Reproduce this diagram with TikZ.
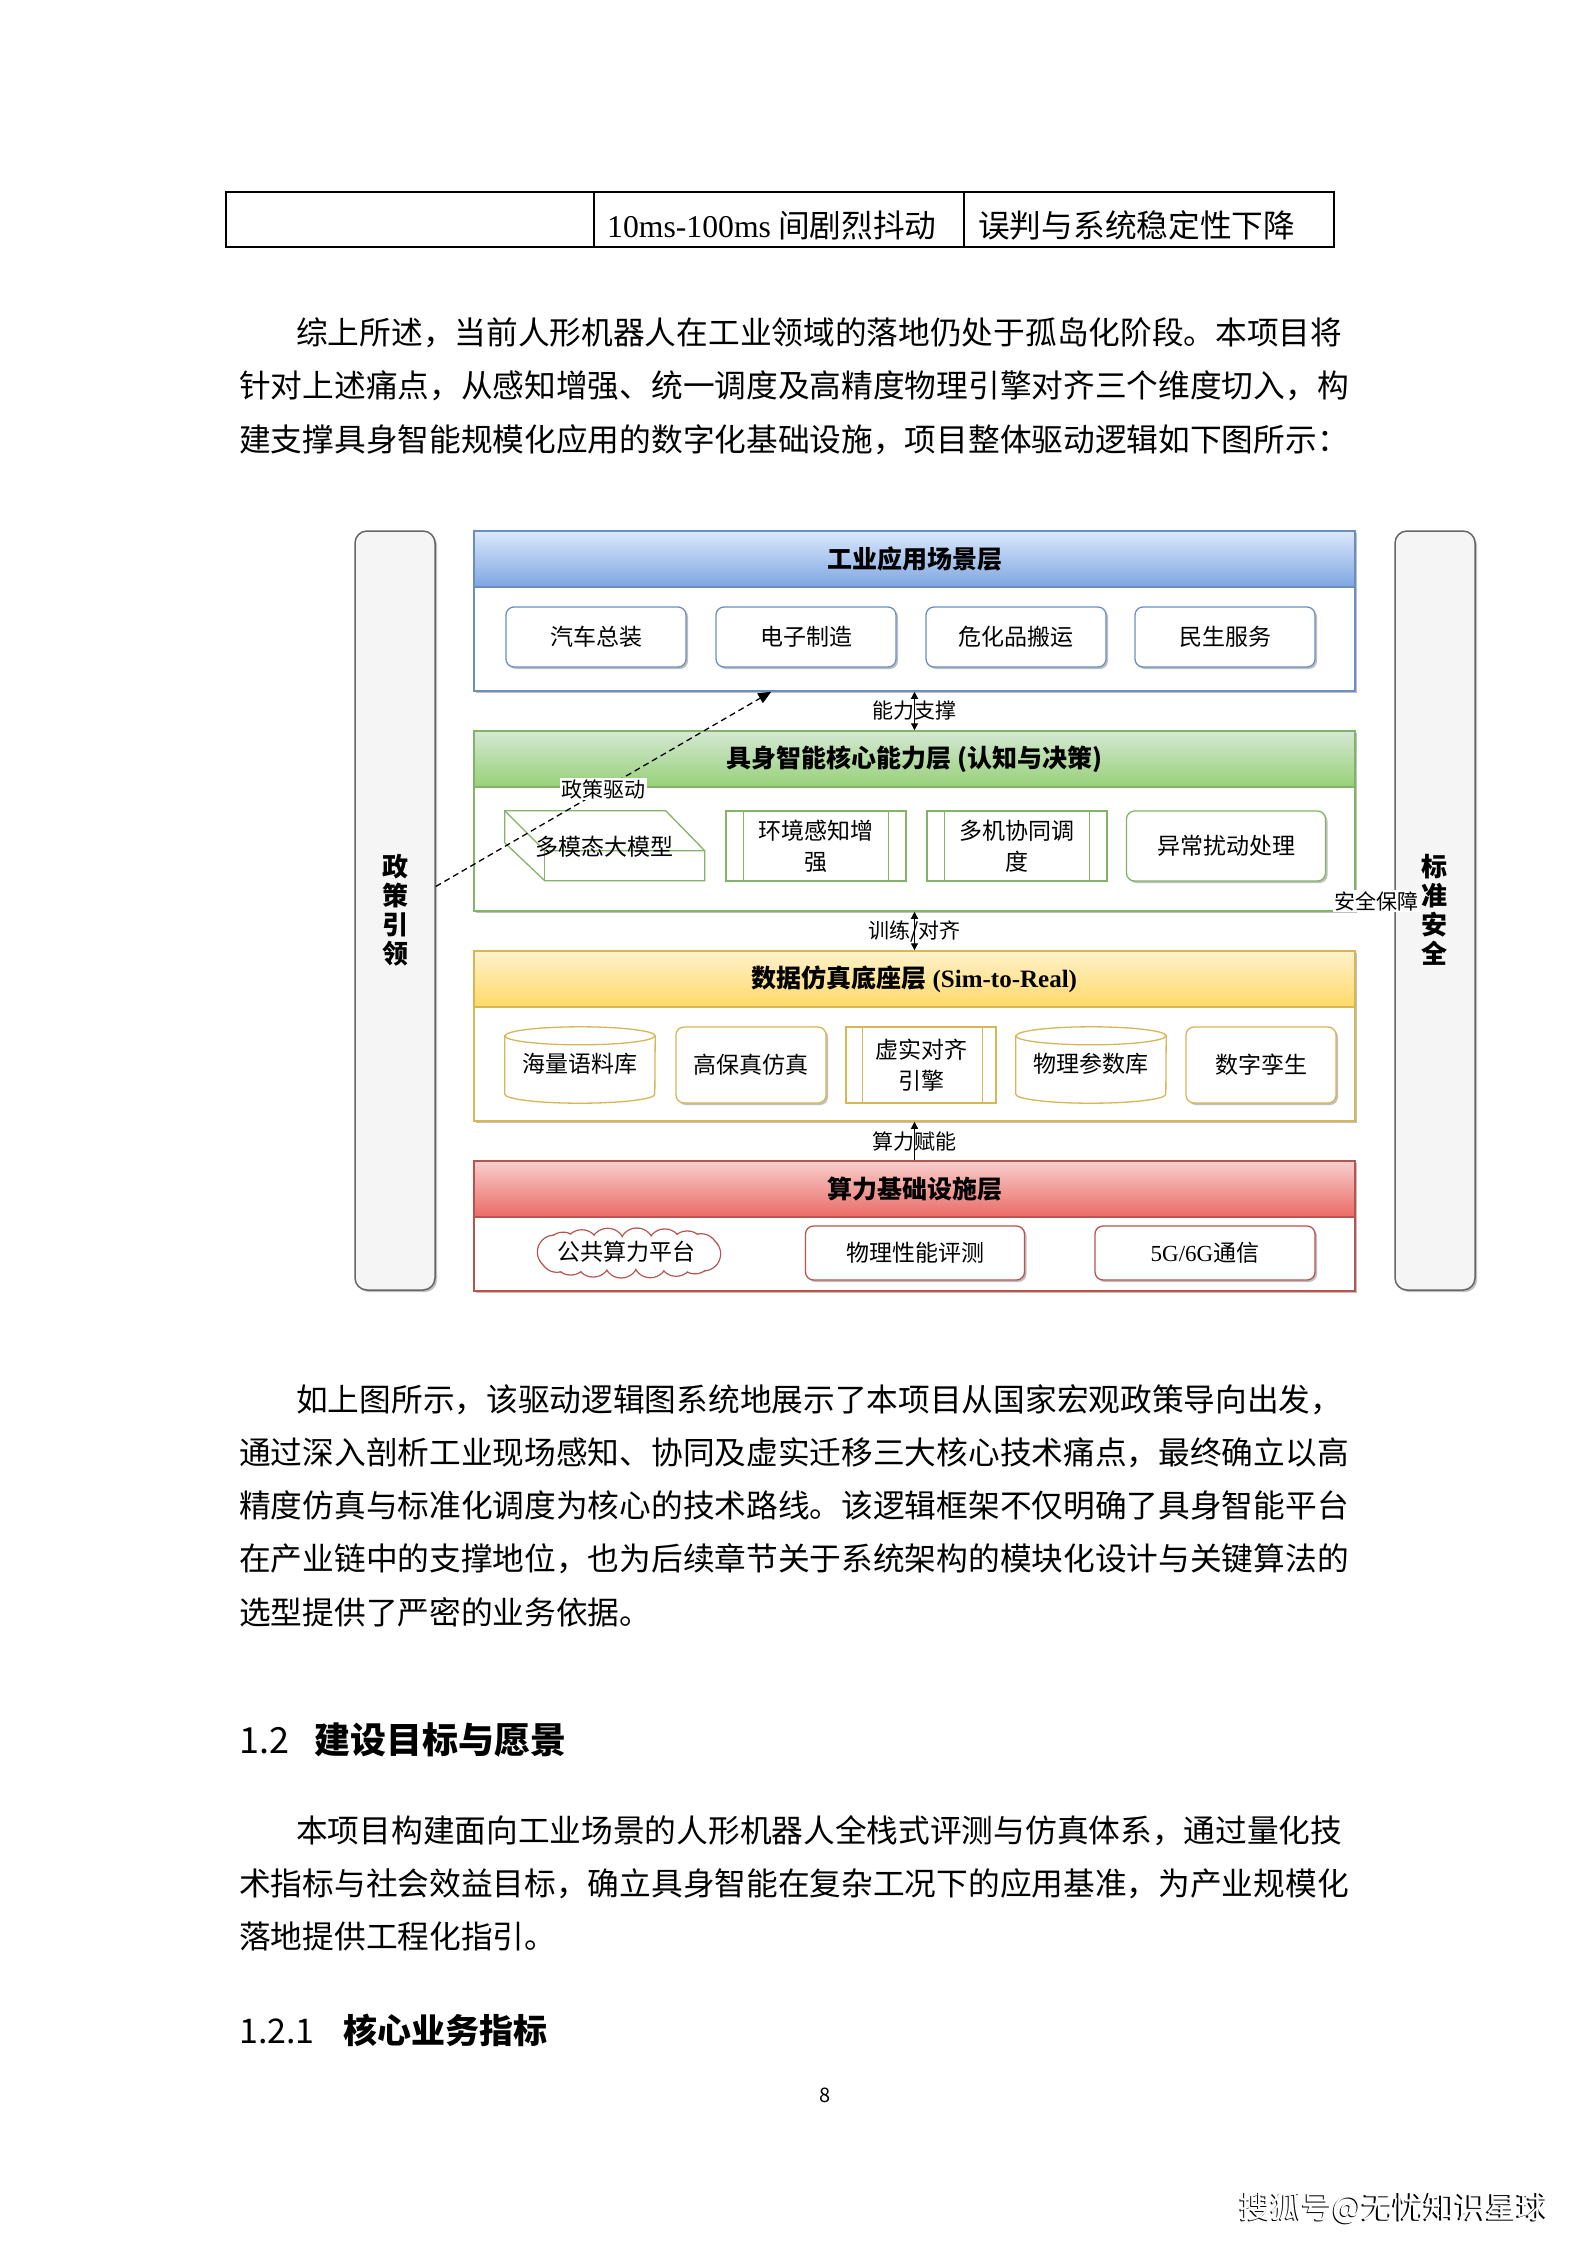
\documentclass[tikz,border=0pt]{standalone}
\usepackage{fontspec}
\setmainfont{Noto Sans CJK SC}
\newfontfamily\lser{Liberation Serif}
\usetikzlibrary{shadows,arrows.meta,calc}
\definecolor{bluebd}{HTML}{6C8EBF}
\definecolor{blueT}{HTML}{DAE8FC}
\definecolor{blueB}{HTML}{7EA6E0}
\definecolor{greenbd}{HTML}{82B366}
\definecolor{greenT}{HTML}{D5E8D4}
\definecolor{greenB}{HTML}{97D077}
\definecolor{yelbd}{HTML}{D6B656}
\definecolor{yelT}{HTML}{FFF2CC}
\definecolor{yelB}{HTML}{FFD966}
\definecolor{redbd}{HTML}{B85450}
\definecolor{redT}{HTML}{F8CECC}
\definecolor{redB}{HTML}{EA6B66}
\definecolor{sidegray}{HTML}{666666}
\definecolor{sidefill}{HTML}{F5F5F5}
\tikzset{
  bodytxt/.style={anchor=west, inner sep=0pt, font=\fontsize{31.7}{31.7}\selectfont, text height=27.9pt, text depth=3.8pt},
  headtxt/.style={anchor=west, inner sep=0pt, font=\bfseries\fontsize{36}{36}\selectfont, text height=31.7pt, text depth=4.3pt},
  headtxtb/.style={anchor=west, inner sep=0pt, font=\bfseries\fontsize{34}{34}\selectfont, text height=30pt, text depth=4pt},
  numtxt/.style={anchor=west, inner sep=0pt, text height=27pt, text depth=0pt},
  shad/.style={drop shadow={shadow xshift=2pt, shadow yshift=-2pt, opacity=0.25, fill=black}},
  sidebar/.style={draw=sidegray, fill=sidefill, line width=1.5pt, rounded corners=12pt, minimum width=80pt, minimum height=759pt, inner sep=0pt, shad},
  sidetxt/.style={align=center, inner sep=0pt, font=\bfseries\fontsize{26}{29}\selectfont},
  layer/.style={fill=white, line width=1.5pt, minimum width=881pt, inner sep=0pt, shad},
  hdr/.style={line width=1.5pt, minimum width=881pt, minimum height=56pt, inner sep=0pt, anchor=north, font=\bfseries\fontsize{25}{25}\selectfont},
  ibox/.style={fill=white, line width=1.3pt, inner sep=0pt, font=\fontsize{23}{31}\selectfont, align=center},
  rbox/.style={ibox, rounded corners=8pt, shad},
  pbox/.style={ibox},
  blank/.style={draw=none, inner sep=0pt},
  lbl/.style={inner sep=1.5pt, font=\fontsize{21}{21}\selectfont},
  wlbl/.style={fill=white, inner sep=1.5pt, font=\fontsize{21}{21}\selectfont},
  dbl/.style={line width=1.2pt, {Triangle[length=7pt,width=7pt]}-{Triangle[length=7pt,width=7pt]}},
  sgl/.style={line width=1.2pt, -{Triangle[length=7pt,width=7pt]}},
  tbl/.style={line width=1.3pt}
}
\begin{document}
\begin{tikzpicture}[x=1pt,y=-1pt]
\useasboundingbox (0,0) rectangle (1587,2245);
\fill[white] (0,0) rectangle (1587,2245);

% ---------- table fragment ----------
\draw[tbl] (226,192) rectangle (1334,247);
\draw[tbl] (594,192) -- (594,247);
\draw[tbl] (964,192) -- (964,247);
\node[bodytxt] (t1) at (607,225) {{\lser 10ms-100ms} 间剧烈抖动};
\node[bodytxt] (t2) at (978,225) {误判与系统稳定性下降};

% ---------- paragraph 1 ----------
\node[bodytxt] (p1a) at (296,332) {综上所述，当前人形机器人在工业领域的落地仍处于孤岛化阶段。本项目将};
\node[bodytxt] (p1b) at (239,385) {针对上述痛点，从感知增强、统一调度及高精度物理引擎对齐三个维度切入，构};
\node[bodytxt] (p1c) at (239,439) {建支撑具身智能规模化应用的数字化基础设施，项目整体驱动逻辑如下图所示：};

% ---------- diagram ----------
\node[sidebar] (SL) at (395,910.5) {};
\node[sidetxt] (SLt) at (395,910) {政\\策\\引\\领};
\node[sidebar] (SR) at (1435,910.5) {};
\node[sidetxt] (SRt) at (1434,910) {标\\准\\安\\全};

% layer 1 (blue)
\node[layer, draw=bluebd, minimum height=160pt] (L1) at (914.5,611) {};
\node[hdr, draw=bluebd, top color=blueT, bottom color=blueB] (H1) at (L1.north) {工业应用场景层};
\node[rbox, draw=bluebd, minimum width=180pt, minimum height=60pt] (B1) at (596,637) {汽车总装};
\node[rbox, draw=bluebd, minimum width=180pt, minimum height=60pt] (B2) at (806,637) {电子制造};
\node[rbox, draw=bluebd, minimum width=180pt, minimum height=60pt] (B3) at (1016,637) {危化品搬运};
\node[rbox, draw=bluebd, minimum width=180pt, minimum height=60pt] (B4) at (1225,637) {民生服务};

% layer 2 (green)
\node[layer, draw=greenbd, minimum height=180pt] (L2) at (914.5,821) {};
\node[hdr, draw=greenbd, top color=greenT, bottom color=greenB] (H2) at (L2.north) {具身智能核心能力层 (认知与决策)};
% cube shape
\node[blank, minimum width=200pt, minimum height=70pt] (G1) at (605,846) {};
\draw[greenbd, line width=1.3pt, fill=white]
  (G1.north west) -- ($(G1.north west)+(161,0)$) -- ($(G1.north west)+(200,40)$) -- ($(G1.north west)+(200,70)$)
  -- ($(G1.north west)+(40,70)$) -- ($(G1.north west)+(0,32)$) -- cycle;
\draw[greenbd, line width=1.3pt] (G1.north west) -- ($(G1.north west)+(40,40)$) -- ($(G1.north west)+(200,40)$);
\draw[greenbd, line width=1.3pt] ($(G1.north west)+(40,40)$) -- ($(G1.north west)+(40,70)$);
\node[blank, font=\fontsize{23}{23}\selectfont] (G1t) at (604,847) {多模态大模型};
% process boxes
\node[pbox, draw=greenbd, minimum width=180pt, minimum height=70pt] (G2) at (816,846) {环境感知增\\强};
\draw[greenbd, line width=1.3pt] ($(G2.north west)+(18,0)$) -- ($(G2.south west)+(18,0)$);
\draw[greenbd, line width=1.3pt] ($(G2.north east)+(-18,0)$) -- ($(G2.south east)+(-18,0)$);
\node[pbox, draw=greenbd, minimum width=180pt, minimum height=70pt] (G3) at (1017,846) {多机协同调\\度};
\draw[greenbd, line width=1.3pt] ($(G3.north west)+(18,0)$) -- ($(G3.south west)+(18,0)$);
\draw[greenbd, line width=1.3pt] ($(G3.north east)+(-18,0)$) -- ($(G3.south east)+(-18,0)$);
\node[rbox, draw=greenbd, minimum width=199pt, minimum height=70pt] (G4) at (1226,846) {异常扰动处理};

% layer 3 (yellow)
\node[layer, draw=yelbd, minimum height=170pt] (L3) at (914.5,1036) {};
\node[hdr, draw=yelbd, top color=yelT, bottom color=yelB] (H3) at (L3.north) {数据仿真底座层 {\lser\bfseries (Sim-to-Real)}};
% cylinders
\node[blank, minimum width=150pt, minimum height=76pt] (Y1) at (580,1065) {};
\draw[yelbd, line width=1.3pt, fill=white] ($(Y1.north west)+(0,9)$) -- ($(Y1.south west)+(0,-9)$)
  arc[start angle=180, end angle=360, x radius=75pt, y radius=9pt] -- ($(Y1.north east)+(0,9)$)
  arc[start angle=0, end angle=180, x radius=75pt, y radius=9pt] -- cycle;
\draw[yelbd, line width=1.3pt] ($(Y1.north west)+(0,9)$) arc[start angle=180, end angle=360, x radius=75pt, y radius=9pt];
\node[blank, font=\fontsize{23}{23}\selectfont] (Y1t) at (580,1064) {海量语料库};
\node[rbox, draw=yelbd, minimum width=150pt, minimum height=76pt] (Y2) at (751,1065) {高保真仿真};
\node[pbox, draw=yelbd, minimum width=150pt, minimum height=76pt] (Y3) at (921,1065) {虚实对齐\\引擎};
\draw[yelbd, line width=1.3pt] ($(Y3.north west)+(17,0)$) -- ($(Y3.south west)+(17,0)$);
\draw[yelbd, line width=1.3pt] ($(Y3.north east)+(-14,0)$) -- ($(Y3.south east)+(-14,0)$);
\node[blank, minimum width=150pt, minimum height=76pt] (Y4) at (1091,1065) {};
\draw[yelbd, line width=1.3pt, fill=white] ($(Y4.north west)+(0,9)$) -- ($(Y4.south west)+(0,-9)$)
  arc[start angle=180, end angle=360, x radius=75pt, y radius=9pt] -- ($(Y4.north east)+(0,9)$)
  arc[start angle=0, end angle=180, x radius=75pt, y radius=9pt] -- cycle;
\draw[yelbd, line width=1.3pt] ($(Y4.north west)+(0,9)$) arc[start angle=180, end angle=360, x radius=75pt, y radius=9pt];
\node[blank, font=\fontsize{23}{23}\selectfont] (Y4t) at (1091,1064) {物理参数库};
\node[rbox, draw=yelbd, minimum width=150pt, minimum height=76pt] (Y5) at (1261,1065) {数字孪生};

% layer 4 (red)
\node[layer, draw=redbd, minimum height=130pt] (L4) at (914.5,1226) {};
\node[hdr, draw=redbd, top color=redT, bottom color=redB] (H4) at (L4.north) {算力基础设施层};
% cloud (drawn from overlapping puffs)
\node[blank, minimum width=192pt, minimum height=46pt] (R1) at (629,1253) {};
\foreach \i in {0,...,15}
  \draw[redbd, line width=1.3pt] ($(R1.center)+({75*cos(\i*22.5+6)},{8*sin(\i*22.5+6)})$) circle[radius=17pt];
\foreach \i in {0,...,15}
  \fill[white] ($(R1.center)+({75*cos(\i*22.5+6)},{8*sin(\i*22.5+6)})$) circle[radius=16.2pt];
\fill[white] (R1.center) ellipse[x radius=80pt, y radius=12pt];
\node[blank, font=\fontsize{23}{23}\selectfont] (R1t) at (626,1252) {公共算力平台};
\node[rbox, draw=redbd, minimum width=219pt, minimum height=54pt] (R2) at (915,1253) {物理性能评测};
\node[rbox, draw=redbd, minimum width=220pt, minimum height=54pt] (R3) at (1205,1253) {{\lser 5G/6G}通信};

% connectors
\draw[dbl] (L1.south) -- node[lbl] (c1) {能力支撑} (H2.north);
\draw[dbl] (L2.south) -- node[lbl] (c2) {训练/对齐} (H3.north);
\draw[sgl] (H4.north) -- node[lbl] (c3) {算力赋能} (L3.south);
\coordinate (pdS) at ($(SL.east)+(0,-24)$);
\coordinate (pdE) at ($(L1.south west)+(298,0)$);
\draw[line width=1.3pt, dash pattern=on 6pt off 4pt, -{Triangle[length=13pt,width=11pt]}] (pdS) -- node[wlbl] (c4) {政策驱动} (pdE);
\node[wlbl] (c5) at (1376,901) {安全保障};

% ---------- paragraph 2 ----------
\node[bodytxt] (p2a) at (296,1399) {如上图所示，该驱动逻辑图系统地展示了本项目从国家宏观政策导向出发，};
\node[bodytxt] (p2b) at (239,1452) {通过深入剖析工业现场感知、协同及虚实迁移三大核心技术痛点，最终确立以高};
\node[bodytxt] (p2c) at (239,1505) {精度仿真与标准化调度为核心的技术路线。该逻辑框架不仅明确了具身智能平台};
\node[bodytxt] (p2d) at (239,1558) {在产业链中的支撑地位，也为后续章节关于系统架构的模块化设计与关键算法的};
\node[bodytxt] (p2e) at (239,1612) {选型提供了严密的业务依据。};

% ---------- heading 1.2 ----------
\node[numtxt, font=\fontsize{36}{36}\selectfont] (h1n) at (239,1740) {1.2};
\node[headtxt] (h1t) at (314,1740) {建设目标与愿景};

% ---------- paragraph 3 ----------
\node[bodytxt] (p3a) at (296,1830) {本项目构建面向工业场景的人形机器人全栈式评测与仿真体系，通过量化技};
\node[bodytxt] (p3b) at (239,1883) {术指标与社会效益目标，确立具身智能在复杂工况下的应用基准，为产业规模化};
\node[bodytxt] (p3c) at (239,1936) {落地提供工程化指引。};

% ---------- heading 1.2.1 ----------
\node[numtxt, font=\fontsize{34}{34}\selectfont] (h2n) at (239,2030) {1.2.1};
\node[headtxtb] (h2t) at (343,2030) {核心业务指标};

% page number
\node[inner sep=0pt, font=\fontsize{20}{20}\selectfont] (pg) at (825,2095) {8};

% bottom-right watermark
\node[inner sep=0pt, font=\fontsize{31}{31}\selectfont, text=black] (wm0) at (1392.5,2209.5) {搜狐号@无忧知识星球};
\node[inner sep=0pt, font=\fontsize{31}{31}\selectfont, text=white] (wm) at (1394,2208) {搜狐号@无忧知识星球};
\end{tikzpicture}
\end{document}
